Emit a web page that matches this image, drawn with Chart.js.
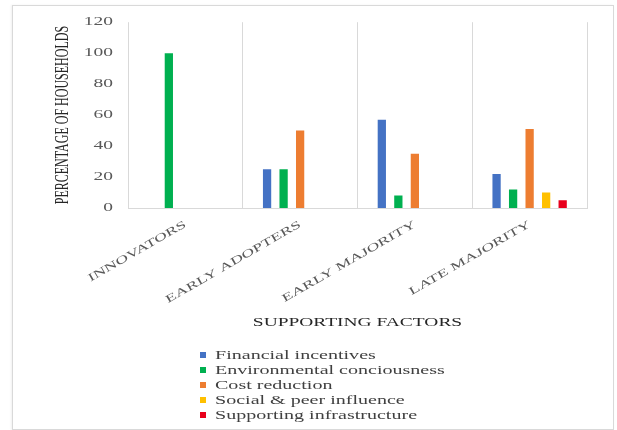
<!DOCTYPE html>
<html>
<head>
<meta charset="utf-8">
<script src="https://cdn.jsdelivr.net/npm/chart.js@4"></script>
<style>
  html, body { margin: 0; padding: 0; background: #ffffff; }
  #wrap { position: relative; width: 617px; height: 430px; }
  #frame { position: absolute; left: 12px; top: 5px; width: 600px; height: 423px;
           border: 1px solid #d9d9d9; box-shadow: -1px 0 2px rgba(0,0,0,0.06); pointer-events: none; }
  canvas { position: absolute; left: 0; top: 0; }
</style>
</head>
<body>
<div id="wrap">
  <canvas id="chart" width="617" height="430"></canvas>
  <div id="frame"></div>
</div>
<script>
// Adopter groups and the share of households citing each supporting factor
const categories = ['INNOVATORS', 'EARLY ADOPTERS', 'EARLY MAJORITY', 'LATE MAJORITY'];
const financialIncentives        = [null, 25, 57, 22];
const environmentalConsciousness = [100, 25, 8, 12];
const costReduction              = [null, 50, 35, 51];
const socialPeerInfluence        = [null, null, null, 10];
const supportingInfrastructure   = [null, null, null, 5];
const seriesNames = ['Financial incentives', 'Environmental conciousness', 'Cost reduction',
                     'Social & peer influence', 'Supporting infrastructure'];
const yTicks = [0, 20, 40, 60, 80, 100, 120];

const colors = ['#4472C4', '#00B050', '#ED7D31', '#FFC000', '#E8001C'];
const SERIF = '"Liberation Serif", "Times New Roman", serif';
const WIDE = 1.62;   // horizontal stretch of the wide serif lettering

// Draw each text run scaled about its anchor point (sx along the run, sy across it)
function stretchedFill(ctx, sx, sy) {
  const orig = CanvasRenderingContext2D.prototype.fillText;
  ctx.fillText = function (text, x, y, maxWidth) {
    this.save();
    this.translate(x, y);
    this.scale(sx, sy);
    if (maxWidth === undefined) orig.call(this, text, 0, 0);
    else orig.call(this, text, 0, 0, maxWidth / sx);
    this.restore();
  };
}
function stretched(fn, sx, sy) {
  return function (...args) {
    const ctx = this.ctx;
    stretchedFill(ctx, sx, sy);
    try { return fn.apply(this, args); } finally { delete ctx.fillText; }
  };
}

const wideTextPlugin = {
  id: 'wideText',
  beforeDraw(chart) {
    const spec = {
      x: { labels: [WIDE, 1], title: [WIDE, 1] },
      y: { labels: [WIDE, 1], title: [1, 1.5] }
    };
    for (const id of Object.keys(spec)) {
      const s = chart.scales[id];
      if (!s || s._wideText) continue;
      s.drawLabels = stretched(s.drawLabels, ...spec[id].labels);
      s.drawTitle = stretched(s.drawTitle, ...spec[id].title);
      s._wideText = true;
    }
  }
};

// Vertical legend list below the axis title
const stackedLegend = {
  id: 'stackedLegend',
  afterDraw(chart) {
    const ctx = chart.ctx;
    const x0 = 200, y0 = 355, rowGap = 15, box = 6;
    ctx.save();
    ctx.font = '12px ' + SERIF;
    ctx.textBaseline = 'middle';
    ctx.textAlign = 'left';
    stretchedFill(ctx, 1.67, 1);
    chart.data.datasets.forEach((ds, i) => {
      const y = y0 + i * rowGap;
      ctx.fillStyle = ds.backgroundColor;
      ctx.fillRect(x0, y - box / 2, box, box);
      ctx.fillStyle = '#404040';
      ctx.fillText(ds.label, x0 + 15, y + 0.5);
    });
    delete ctx.fillText;
    ctx.restore();
  }
};

const seriesData = [financialIncentives, environmentalConsciousness, costReduction,
                    socialPeerInfluence, supportingInfrastructure];

new Chart(document.getElementById('chart'), {
  type: 'bar',
  data: {
    labels: categories,
    datasets: seriesData.map((d, i) => ({
      label: seriesNames[i],
      data: d,
      backgroundColor: colors[i],
      borderWidth: 0,
      categoryPercentage: 0.72,
      barPercentage: 0.5
    }))
  },
  options: {
    responsive: false,
    animation: false,
    devicePixelRatio: 1,
    layout: { padding: { top: 22, right: 30, bottom: 100, left: 50 } },
    plugins: {
      legend: { display: false },
      tooltip: { enabled: false }
    },
    scales: {
      x: {
        grid: { display: true, offset: true, color: '#d9d9d9', lineWidth: 1, drawTicks: false },
        border: { display: true, color: '#d9d9d9', width: 1 },
        ticks: {
          autoSkip: false, minRotation: 30, maxRotation: 30, padding: 10,
          color: '#595959', font: { family: SERIF, size: 11 }
        },
        title: {
          display: true, text: 'SUPPORTING FACTORS', color: '#262626',
          font: { family: SERIF, size: 12 }, padding: { top: 0, bottom: 0 }
        },
        afterFit(scale) { scale.height = 122; }
      },
      y: {
        min: 0, max: 120,
        afterBuildTicks(scale) { scale.ticks = yTicks.map(v => ({ value: v })); },
        grid: { display: false, drawTicks: false },
        border: { display: false },
        ticks: { padding: 15, color: '#595959', font: { family: SERIF, size: 12 } },
        title: {
          display: true, text: 'PERCENTAGE OF HOUSEHOLDS', color: '#262626',
          font: { family: SERIF, size: 12 }, padding: { top: 6, bottom: 0 }
        },
        afterFit(scale) { scale.width = 78; }
      }
    }
  },
  plugins: [wideTextPlugin, stackedLegend]
});
</script>
</body>
</html>
